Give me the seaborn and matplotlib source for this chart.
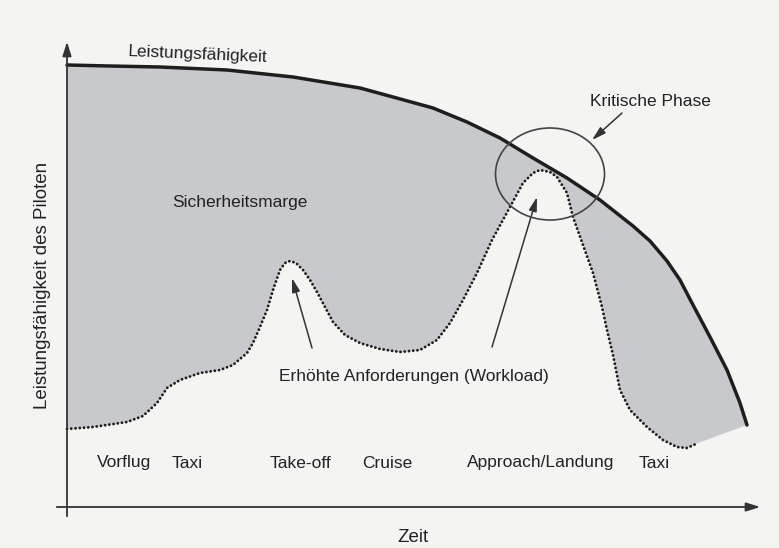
import matplotlib
matplotlib.use("Agg")
import matplotlib.pyplot as plt
from matplotlib.patches import Ellipse
import numpy as np
import pandas as pd
import seaborn as sns

# ---- data (arbitrary units: time vs. level) ----
cap_t = [0, 43, 93, 160, 226, 293, 326, 366, 400, 433, 466, 500, 533, 566, 583, 600, 613, 625,
         643, 660, 673, 680]
cap_v = [442, 441, 440, 437, 430, 419, 410, 399, 385, 369, 349, 329, 307, 281, 266, 246, 227,
         204, 170, 137, 104, 82]

work_t = [0, 26, 60, 76, 90, 100, 113, 133, 153, 166, 180, 186, 193, 200, 206, 213, 218, 223,
          229, 236, 243, 250, 258, 266, 278, 293, 313, 333, 353, 370, 383, 396, 410, 425, 443,
          456, 466, 473, 483, 490, 500, 506, 516, 526, 535, 540, 546, 553, 563, 580, 596, 610,
          620, 631]
work_v = [78, 80, 85, 91, 104, 119, 127, 134, 137, 142, 154, 164, 180, 197, 217, 237, 244, 246,
          244, 237, 227, 215, 200, 185, 172, 164, 158, 155, 157, 167, 184, 207, 234, 267, 300,
          324, 334, 337, 335, 330, 314, 290, 262, 234, 200, 177, 152, 117, 97, 80, 67, 60,
          59, 64]

phase_labels = ["Vorflug", "Taxi", "Take-off", "Cruise", "Approach/Landung", "Taxi"]
phase_pos = [57, 120, 234, 320, 474, 587]

cap_df = pd.DataFrame({"t": cap_t, "v": cap_v})
work_df = pd.DataFrame({"t": work_t, "v": work_v})

sns.set_theme(style="white")
plt.rcParams["font.family"] = ["Liberation Sans", "DejaVu Sans"]

fig = plt.figure(figsize=(7.79, 5.48), dpi=100)
fig.patch.set_facecolor("#f4f4f3")
ax = fig.add_axes([0, 0, 1, 1])
ax.set_facecolor("#f4f4f3")
ax.set_xlim(-67, 712)
ax.set_ylim(-41, 507)
ax.axis("off")

# gray safety margin between capacity and workload
poly_t = list(cap_t) + list(work_t[::-1])
poly_v = list(cap_v) + list(work_v[::-1])
ax.fill(poly_t, poly_v, color="#c8c9cc", lw=0, zorder=1)

# capacity line
sns.lineplot(data=cap_df, x="t", y="v", sort=False, ax=ax, color="#1e1e1e", lw=2.5,
             zorder=3, solid_joinstyle="round")
# workload dotted line
sns.lineplot(data=work_df, x="t", y="v", sort=False, ax=ax, color="#1e1e1e", lw=2.1,
             linestyle=(0, (0.01, 1.45)), dash_capstyle="round", zorder=3)

# axes arrows
axc = "#333333"
ax.annotate("", xy=(0, 468), xytext=(0, -12),
            arrowprops=dict(arrowstyle="-|>,head_length=0.7,head_width=0.22", color=axc, lw=1.3))
ax.annotate("", xy=(696, 0), xytext=(-13, 0),
            arrowprops=dict(arrowstyle="-|>,head_length=0.7,head_width=0.22", color=axc, lw=1.3))

# axis labels
ax.text(-24, 222, "Leistungsfähigkeit des Piloten", rotation=90, ha="center", va="center",
        fontsize=13.5, color="#222222")
ax.text(346, -30, "Zeit", ha="center", va="center", fontsize=13.5, color="#222222")

# annotations
tc = "#222222"
ax.text(131, 452, "Leistungsfähigkeit", ha="center", va="center", fontsize=12.5, color=tc,
        rotation=-2.5)
ax.text(173, 304, "Sicherheitsmarge", ha="center", va="center", fontsize=12.5, color=tc)
ax.text(583, 405, "Kritische Phase", ha="center", va="center", fontsize=12.5, color=tc)
ax.text(347, 130, "Erhöhte Anforderungen (Workload)", ha="center", va="center",
        fontsize=12.5, color=tc)

for lab, pos in zip(phase_labels, phase_pos):
    ax.text(pos, 44, lab, ha="center", va="center", fontsize=12.5, color=tc)

# critical phase ellipse
ax.add_patch(Ellipse((483, 333), 109, 92, fill=False, ec="#444444", lw=1.2, zorder=4))

arr = dict(arrowstyle="-|>,head_length=0.7,head_width=0.2", color="#333333", lw=1.1,
           shrinkA=0, shrinkB=0)
ax.annotate("", xy=(525, 367), xytext=(555, 394), arrowprops=arr)
ax.annotate("", xy=(225, 229), xytext=(245, 159), arrowprops=arr)
ax.annotate("", xy=(470, 310), xytext=(425, 160), arrowprops=arr)

fig.savefig("out.png", dpi=100, facecolor=fig.get_facecolor())
